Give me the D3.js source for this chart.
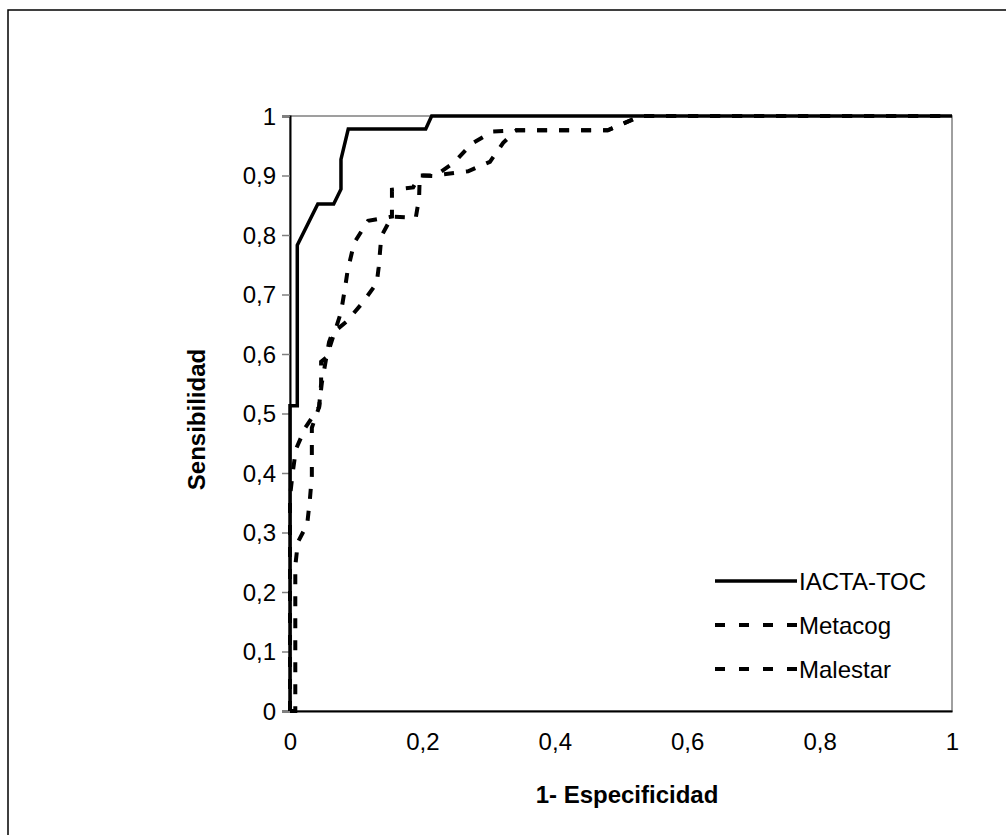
<!DOCTYPE html>
<html>
<head>
<meta charset="utf-8">
<script src="https://cdn.jsdelivr.net/npm/d3@7"></script>
<style>
  html, body { margin: 0; padding: 0; background: #fff; }
  svg { display: block; }
  text { font-family: Arial, "Liberation Sans", sans-serif; fill: #000; }
</style>
</head>
<body>
<svg id="chart" width="1006" height="835"></svg>
<script>
// ---- Data ----
const seriesNames = ["IACTA-TOC", "Metacog", "Malestar"];
const xTicks = [0, 0.2, 0.4, 0.6, 0.8, 1];
const yTicks = [0, 0.1, 0.2, 0.3, 0.4, 0.5, 0.6, 0.7, 0.8, 0.9, 1];

const iactaX = [0, 0, 0.011, 0.011, 0.042, 0.066, 0.077, 0.077, 0.088, 0.205, 0.214, 1];
const iactaY = [0, 0.513, 0.513, 0.783, 0.852, 0.852, 0.877, 0.927, 0.978, 0.978, 1, 1];

const metacogX = [0, 0, 0.004, 0.009, 0.023, 0.044, 0.047, 0.047, 0.055, 0.077, 0.083, 0.087, 0.097, 0.118, 0.154, 0.154, 0.186, 0.196, 0.22, 0.249, 0.274, 0.306, 0.34, 0.48, 0.53, 1];
const metacogY = [0, 0.36, 0.40, 0.44, 0.476, 0.511, 0.55, 0.587, 0.594, 0.67, 0.71, 0.74, 0.787, 0.824, 0.831, 0.876, 0.88, 0.9, 0.9, 0.923, 0.953, 0.974, 0.976, 0.976, 1, 1];

const malestarX = [0, 0.008, 0.008, 0.012, 0.026, 0.030, 0.033, 0.033, 0.044, 0.048, 0.059, 0.064, 0.085, 0.108, 0.131, 0.134, 0.138, 0.154, 0.19, 0.195, 0.196, 0.217, 0.232, 0.269, 0.302, 0.322, 0.342, 0.48, 0.53, 1];
const malestarY = [0, 0, 0.244, 0.284, 0.314, 0.355, 0.395, 0.476, 0.511, 0.551, 0.62, 0.635, 0.654, 0.684, 0.719, 0.746, 0.798, 0.831, 0.829, 0.862, 0.9, 0.899, 0.902, 0.907, 0.923, 0.955, 0.976, 0.976, 1, 1];

// ---- Layout ----
const svg = d3.select("#chart");
const plot = { left: 290, right: 952, top: 116, bottom: 711 };
const fontSize = 24;

const x = d3.scaleLinear().domain([0, 1]).range([plot.left, plot.right]);
const y = d3.scaleLinear().domain([0, 1]).range([plot.bottom, plot.top]);

const locale = d3.formatLocale({ decimal: ",", thousands: ".", grouping: [3], currency: ["", "€"] });
const fmt = locale.format("~g");

// Outer chart frame (extends past the visible area)
svg.append("rect")
  .attr("x", 8).attr("y", 10).attr("width", 1100).attr("height", 1000)
  .attr("fill", "none").attr("stroke", "#000").attr("stroke-width", 1.5);

// Plot area border (gray top/right)
svg.append("rect")
  .attr("x", plot.left).attr("y", plot.top)
  .attr("width", plot.right - plot.left).attr("height", plot.bottom - plot.top)
  .attr("fill", "none").attr("stroke", "#808080").attr("stroke-width", 1.5);

// Axes
const yAxis = d3.axisLeft(y).tickValues(yTicks).tickFormat(fmt).tickSize(8).tickPadding(6);
const xAxis = d3.axisBottom(x).tickValues(xTicks).tickFormat(fmt).tickSize(0).tickPadding(22);

const gy = svg.append("g").attr("transform", `translate(${plot.left},0)`).call(yAxis);
const gx = svg.append("g").attr("transform", `translate(0,${plot.bottom})`).call(xAxis);

[gx, gy].forEach(g => {
  g.select(".domain").attr("stroke", "#000").attr("stroke-width", 2);
  g.selectAll(".tick line").attr("stroke", "#808080").attr("stroke-width", 1.5);
  g.selectAll(".tick text").attr("font-size", fontSize)
    .attr("font-family", "Arial, 'Liberation Sans', sans-serif").attr("fill", "#000");
});
gy.selectAll(".tick text").attr("dy", "0.35em");
gx.selectAll(".tick text").attr("dy", "0.71em");

// Axis titles
svg.append("text")
  .attr("x", (plot.left + plot.right) / 2 + 6).attr("y", plot.bottom + 83)
  .attr("text-anchor", "middle").attr("dominant-baseline", "central")
  .attr("font-size", fontSize).attr("font-weight", "bold")
  .text("1- Especificidad");

svg.append("text")
  .attr("transform", `translate(196,${(plot.top + plot.bottom) / 2 + 6}) rotate(-90)`)
  .attr("text-anchor", "middle").attr("dominant-baseline", "central")
  .attr("font-size", fontSize).attr("font-weight", "bold")
  .text("Sensibilidad");

// Curves
const line = d3.line().x(d => x(d[0])).y(d => y(d[1]));
const series = [
  { name: seriesNames[0], pts: d3.zip(iactaX, iactaY), dash: null, legendDash: null, width: 3.5 },
  { name: seriesNames[1], pts: d3.zip(metacogX, metacogY), dash: "10,12", legendDash: "10,14", width: 4 },
  { name: seriesNames[2], pts: d3.zip(malestarX, malestarY), dash: "10,12", legendDash: "10,14", width: 4 }
];

series.slice().reverse().forEach(s => {
  svg.append("path")
    .attr("d", line(s.pts))
    .attr("fill", "none").attr("stroke", "#000")
    .attr("stroke-width", s.width)
    .attr("stroke-linejoin", "miter")
    .attr("stroke-dasharray", s.dash);
});

// Legend
const legendRows = [581, 625, 669];
series.forEach((s, i) => {
  const ly = legendRows[i];
  svg.append("line")
    .attr("x1", 715).attr("x2", 797).attr("y1", ly).attr("y2", ly)
    .attr("stroke", "#000").attr("stroke-width", s.width)
    .attr("stroke-dasharray", s.legendDash);
  svg.append("text")
    .attr("x", 799).attr("y", ly)
    .attr("dominant-baseline", "central")
    .attr("font-size", fontSize)
    .text(s.name);
});
</script>
</body>
</html>
